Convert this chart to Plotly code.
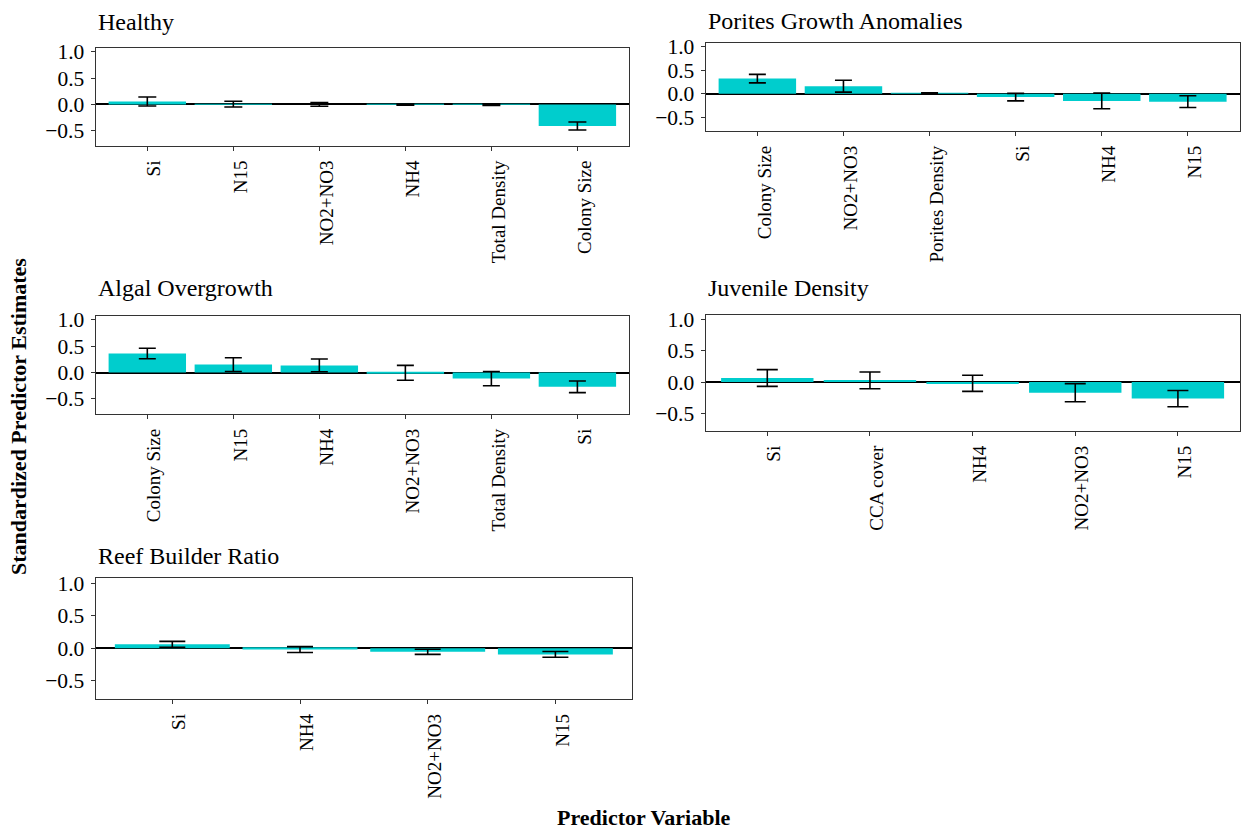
import plotly.graph_objects as go

# ---- data ----
healthy_vars = ["Si", "N15", "NO2+NO3", "NH4", "Total Density", "Colony Size"]
healthy_est = [0.055, 0.005, 0.0, -0.005, -0.005, -0.41]
healthy_err = [0.085, 0.055, 0.035, 0.012, 0.015, 0.075]

porites_vars = ["Colony Size", "NO2+NO3", "Porites Density", "Si", "NH4", "N15"]
porites_est = [0.32, 0.16, 0.01, -0.07, -0.15, -0.165]
porites_err = [0.09, 0.125, 0.012, 0.08, 0.165, 0.125]

algal_vars = ["Colony Size", "N15", "NH4", "NO2+NO3", "Total Density", "Si"]
algal_est = [0.36, 0.15, 0.135, -0.005, -0.115, -0.27]
algal_err = [0.10, 0.13, 0.12, 0.14, 0.135, 0.11]

juvenile_vars = ["Si", "CCA cover", "NH4", "NO2+NO3", "N15"]
juvenile_est = [0.065, 0.027, -0.02, -0.17, -0.265]
juvenile_err = [0.135, 0.135, 0.13, 0.145, 0.13]

reef_vars = ["Si", "NH4", "NO2+NO3", "N15"]
reef_est = [0.06, -0.02, -0.055, -0.095]
reef_err = [0.045, 0.045, 0.04, 0.045]

panel_titles = ["Healthy", "Porites Growth Anomalies", "Algal Overgrowth",
                "Juvenile Density", "Reef Builder Ratio"]
y_ticks = [-0.5, 0.0, 0.5, 1.0]
y_tick_labels = ["\u22120.5", "0.0", "0.5", "1.0"]

# ---- layout geometry (target pixels in the picture) ----
FW, FH = 1248, 831
FONT = "Liberation Serif"
BAR = "#00CDCD"


def px(x):
    return x / FW


def py(y):
    # small empirical correction for the vertical placement seen in the render
    yy = (y - 7.9) / 0.9905
    return 1 - yy / FH


panels = [
    # vars, est, err, x0, x1, y top, y bottom, cap half-width, title y
    (healthy_vars, healthy_est, healthy_err, 95.7, 629, 47.7, 145.7, 9, 22),
    (porites_vars, porites_est, porites_err, 705.7, 1239.5, 42.7, 131, 8.5, 21),
    (algal_vars, algal_est, algal_err, 95.7, 629, 315.7, 414, 8.5, 288),
    (juvenile_vars, juvenile_est, juvenile_err, 705.7, 1239.5, 315, 431, 10.5, 288),
    (reef_vars, reef_est, reef_err, 95.7, 632, 578.3, 699.3, 13, 556),
]

fig = go.Figure()
annotations = []
for i, (vars_, est, err, x0, x1, yt, yb, capw, ty) in enumerate(panels):
    n = i + 1
    xa = "x" if n == 1 else f"x{n}"
    ya = "y" if n == 1 else f"y{n}"
    fig.add_trace(go.Bar(
        x=vars_, y=est, xaxis=xa, yaxis=ya, width=0.9,
        marker=dict(color=BAR, line=dict(width=0)),
        error_y=dict(type="data", array=err, visible=True, color="black",
                     thickness=1.6, width=capw),
        showlegend=False,
    ))
    xkey = "xaxis" if n == 1 else f"xaxis{n}"
    ykey = "yaxis" if n == 1 else f"yaxis{n}"
    fig.update_layout({
        xkey: dict(
            domain=[px(x0), px(x1)], anchor=ya,
            type="category", categoryorder="array", categoryarray=vars_,
            range=[-0.6, len(vars_) - 0.4],
            showline=True, mirror=True, linecolor="#333333", linewidth=1.3,
            ticks="outside", ticklen=4, tickcolor="#333333", tickwidth=1.1,
            tickangle=-90, showgrid=False, zeroline=False,
            tickfont=dict(family=FONT, size=19, color="black"),
            ticklabelstandoff=2, ticklabelshift=7,
        ),
        ykey: dict(
            domain=[py(yb), py(yt)], anchor=xa,
            range=[-0.786, 1.075],
            tickmode="array", tickvals=y_ticks, ticktext=y_tick_labels,
            showline=True, mirror=True, linecolor="#333333", linewidth=1.3,
            ticks="outside", ticklen=4, tickcolor="#333333", tickwidth=1.1,
            showgrid=False, zeroline=True, zerolinecolor="black",
            zerolinewidth=1.6,
            tickfont=dict(family=FONT, size=21.5, color="black"),
            ticklabelstandoff=2,
        ),
    })
    annotations.append(dict(
        text=panel_titles[i], x=px(x0), y=py(ty), xref="paper", yref="paper",
        xanchor="left", yanchor="middle", showarrow=False,
        font=dict(family=FONT, size=24, color="black"),
    ))

annotations.append(dict(
    text="<b>Standardized Predictor Estimates</b>", x=px(18), y=py(417),
    xref="paper", yref="paper", textangle=-90, showarrow=False,
    xanchor="center", yanchor="middle",
    font=dict(family=FONT, size=22, color="black"),
))
annotations.append(dict(
    text="<b>Predictor Variable</b>", x=px(644), y=py(818),
    xref="paper", yref="paper", showarrow=False,
    xanchor="center", yanchor="middle",
    font=dict(family=FONT, size=22, color="black"),
))

fig.update_layout(
    width=FW, height=FH, margin=dict(l=0, r=0, t=0, b=0),
    paper_bgcolor="white", plot_bgcolor="white",
    bargap=0.1, annotations=annotations,
    font=dict(family=FONT, color="black"),
)

fig.write_html(
    "out.html",
    config={"displayModeBar": False},
    post_script="document.body.style.margin='0';document.body.style.overflow='hidden';",
)
